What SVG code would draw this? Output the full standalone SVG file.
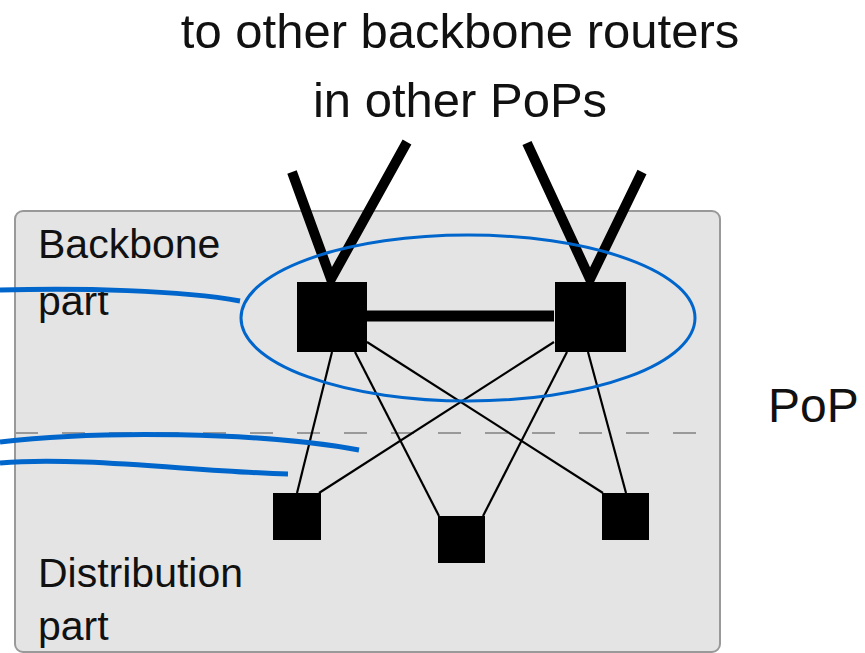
<svg xmlns="http://www.w3.org/2000/svg" width="865" height="653" viewBox="0 0 865 653">
  <style>
    .lbl { font-family: "Liberation Sans", Arial, Helvetica, sans-serif; fill: #111; }
    .router { fill: #000; }
    .uplink { stroke: #000; stroke-width: 10; fill: none; }
    .link { stroke: #000; stroke-width: 2.2; fill: none; }
    .callout { stroke: #0066cc; stroke-width: 5; fill: none; }
  </style>

  <!-- PoP enclosure -->
  <rect x="15" y="211" width="705" height="441" rx="8" fill="#e4e4e4" stroke="#999" stroke-width="2"/>
  <line x1="15" y1="433" x2="720" y2="433" stroke="#999" stroke-width="2" stroke-dasharray="23 24"/>

  <!-- titles and labels -->
  <text class="lbl" x="460" y="48" font-size="49" text-anchor="middle">to other backbone routers</text>
  <text class="lbl" x="460" y="117" font-size="49" text-anchor="middle">in other PoPs</text>
  <text class="lbl" x="38" y="258" font-size="41">Backbone</text>
  <text class="lbl" x="38" y="315" font-size="41">part</text>
  <text class="lbl" x="38" y="587" font-size="41">Distribution</text>
  <text class="lbl" x="38" y="640" font-size="41">part</text>
  <text class="lbl" x="768" y="422" font-size="48">PoP</text>

  <!-- connectors -->
  <g id="connectors">
    <polyline class="uplink" points="292,172 331,279 407,142"/>
    <polyline class="uplink" points="527,143 590,279 642,172"/>
    <line x1="367" y1="316" x2="554" y2="316" stroke="#000" stroke-width="11"/>
    <line class="link" x1="332" y1="352" x2="297" y2="493"/>
    <line class="link" x1="355" y1="352" x2="439" y2="516"/>
    <line class="link" x1="367" y1="342" x2="603" y2="493"/>
    <line class="link" x1="554" y1="342" x2="319" y2="493"/>
    <line class="link" x1="567" y1="352" x2="483" y2="516"/>
    <line class="link" x1="588" y1="352" x2="626" y2="493"/>
  </g>

  <!-- routers -->
  <g id="bb-left"><rect class="router" x="297" y="282" width="70" height="70"/></g>
  <g id="bb-right"><rect class="router" x="555" y="282" width="71" height="70"/></g>
  <g id="dist-left"><rect class="router" x="273" y="493" width="48" height="47"/></g>
  <g id="dist-mid"><rect class="router" x="438" y="516" width="47" height="47"/></g>
  <g id="dist-right"><rect class="router" x="602" y="493" width="47" height="47"/></g>

  <!-- highlight of backbone part -->
  <g id="highlight">
    <ellipse cx="468" cy="318" rx="227" ry="83" fill="none" stroke="#0066cc" stroke-width="3"/>
    <path class="callout" d="M0,290 C80,288 180,290 240,301"/>
    <path class="callout" d="M0,442 C100,430 260,432 359,450"/>
    <path class="callout" d="M0,463 C80,456 200,472 288,474"/>
  </g>
</svg>
